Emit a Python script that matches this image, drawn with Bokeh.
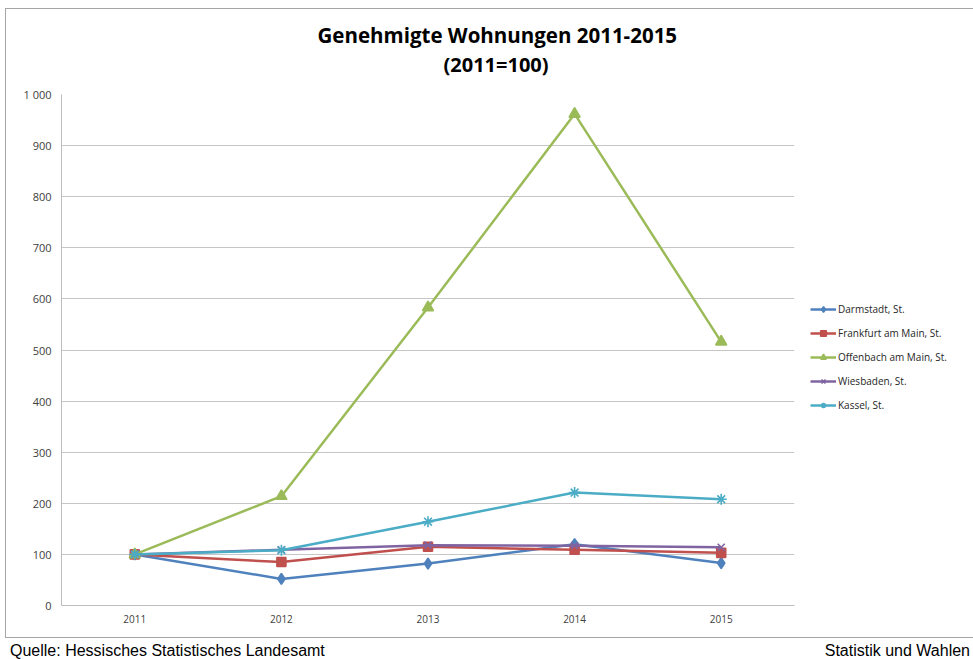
from bokeh.plotting import figure
from bokeh.layouts import column
from bokeh.models import (FactorRange, FixedTicker, Legend, LegendItem, Title,
                          ColumnDataSource, Div)
from bokeh.embed import file_html
from bokeh.resources import INLINE

years = ["2011", "2012", "2013", "2014", "2015"]
darmstadt = [100, 52, 82, 120, 83]
frankfurt = [100, 85, 115, 109, 103]
offenbach = [100, 214, 583, 962, 516]
wiesbaden = [100, 109, 118, 117, 114]
kassel = [100, 108, 164, 221, 208]
series_names = ["Darmstadt, St.", "Frankfurt am Main, St.", "Offenbach am Main, St.",
                "Wiesbaden, St.", "Kassel, St."]
y_ticks = [0, 100, 200, 300, 400, 500, 600, 700, 800, 900, 1000]
y_tick_labels = {1000: "1 000"}
title_lines = ["Genehmigte Wohnungen 2011-2015", "(2011=100)"]
source_left = "Quelle: Hessisches Statistisches Landesamt"
source_right = "Statistik und Wahlen"

colors = ["#4F81BD", "#C0504D", "#9BBB59", "#8064A2", "#4BACC6"]
markers = ["diamond", "square", "triangle", "x", "asterisk"]
msizes = [11, 9, 11, 10, 11]

FONT = "Open Sans"

p = figure(frame_width=731, frame_height=509,
           x_range=FactorRange(factors=years, range_padding=0),
           y_range=(0, 1000), output_backend="svg", toolbar_location=None, title=None,
           min_border_left=55, min_border_right=179, min_border_top=85, min_border_bottom=34,
           background_fill_color="white", border_fill_color="white")
p.margin = (8, 0, 0, 5)
p.styles = {"border": "1px solid #a6a6a6"}
p.outline_line_color = None
p.xgrid.grid_line_color = None
p.ygrid.grid_line_color = "#c6c6c6"
p.ygrid.grid_line_width = 1

p.yaxis.ticker = FixedTicker(ticks=y_ticks)
p.yaxis.major_label_overrides = y_tick_labels
p.yaxis.axis_line_color = "#bdbdbd"
p.yaxis.major_tick_line_color = None
p.yaxis.minor_tick_line_color = None
p.yaxis.major_tick_out = 0
p.yaxis.major_tick_in = 0
p.yaxis.major_label_standoff = 10
p.yaxis.major_label_text_font = FONT
p.yaxis.major_label_text_font_size = "11px"
p.yaxis.major_label_text_color = "#404040"

p.xaxis.axis_line_color = "#bdbdbd"
p.xaxis.major_tick_line_color = None
p.xaxis.major_tick_out = 0
p.xaxis.major_tick_in = 0
p.xaxis.major_label_standoff = 9
p.xaxis.major_label_text_font = FONT
p.xaxis.major_label_text_font_size = "10px"
p.xaxis.major_label_text_color = "#404040"

all_series = [darmstadt, frankfurt, offenbach, wiesbaden, kassel]
items = []
for name, vals, c, m, s in zip(series_names, all_series, colors, markers, msizes):
    src = ColumnDataSource(dict(x=years, y=vals))
    lr = p.line("x", "y", source=src, line_color=c, line_width=2.5)
    sr = p.scatter("x", "y", source=src, marker=m, size=s, fill_color=c,
                   line_color=c, line_width=1.6)
    items.append(LegendItem(label=name, renderers=[lr, sr]))

legend = Legend(items=items, location=(16, 193), orientation="vertical",
                glyph_width=26, glyph_height=14, label_height=15, spacing=9,
                label_standoff=2, padding=0, margin=0,
                label_text_font=FONT, label_text_font_size="10px",
                label_text_color="#262626",
                border_line_alpha=0, background_fill_alpha=0)
p.add_layout(legend, "right")

# spacer between plot area and the two title lines
t0 = Title(text=" ", align="left", offset=0, text_font=FONT, text_font_size="10px",
           standoff=1)
t2 = Title(text=title_lines[1], align="left", offset=382, text_font=FONT,
           text_font_style="bold", text_font_size="20px", text_color="#000000",
           standoff=0)
t1 = Title(text=title_lines[0], align="left", offset=256, text_font=FONT,
           text_font_style="bold", text_font_size="20.5px", text_color="#000000",
           standoff=0)
p.add_layout(t0, "above")
p.add_layout(t2, "above")
p.add_layout(t1, "above")

footer = Div(text=(
    '<div style="display:flex;justify-content:space-between;width:970px;'
    'box-sizing:border-box;'
    'font-family:\'Liberation Sans\',Arial,sans-serif;font-size:16px;color:#000;'
    'line-height:18px;padding-top:4px;padding-left:10px;">'
    f'<span>{source_left}</span><span>{source_right}</span></div>'),
    width=973, height=21, margin=0)

layout = column(p, footer, margin=0, spacing=0)

open("out.html", "w").write(file_html(layout, INLINE))
